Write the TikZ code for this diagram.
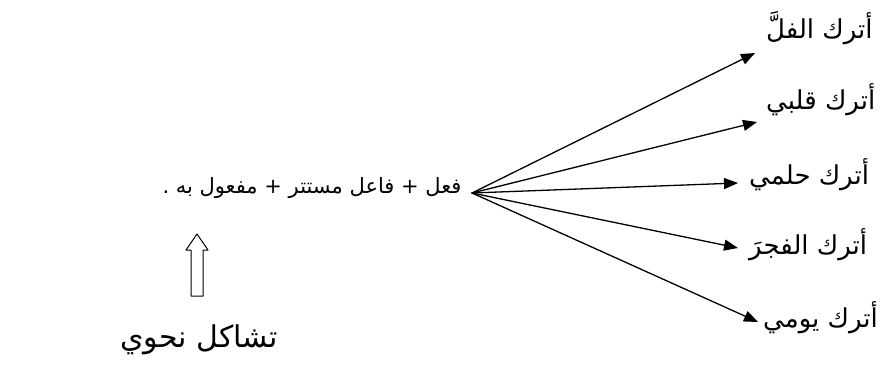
\documentclass[tikz,border=0pt]{standalone}
\usepackage{fontspec}
\newfontfamily\arabicfont[Script=Arabic]{DejaVu Sans}
\TeXXeTstate=1
\usetikzlibrary{arrows.meta}
\tikzset{
  every picture/.style={line join=round, line cap=round},
  ar/.style={font=\arabicfont\fontsize{30}{36}\selectfont, inner sep=1pt},
  arlabel/.style={font=\arabicfont\fontsize{26}{31}\selectfont, inner sep=1pt, anchor=west},
  arform/.style={font=\arabicfont\fontsize{21}{25}\selectfont, inner sep=1pt},
  fan/.style={line width=1.3pt, -{Triangle[length=14pt,width=11pt]}},
}
\begin{document}
\begin{tikzpicture}[x=1pt,y=-1pt]
\useasboundingbox (0,0) rectangle (890,364);
\node[arform] (form) at (312,188) {\beginR فعل + فاعل مستتر + مفعول به .\endR};
\node[ar] (name) at (199,340) {\beginR تشاكل نحوي\endR};
\coordinate (src) at (472,193);
\node[arlabel] (l1) at (765,28) {\beginR أترك الفلَّ\endR};
\node[arlabel] (l2) at (765,100) {\beginR أترك قلبي\endR};
\node[arlabel] (l3) at (748,175) {\beginR أترك حلمي\endR};
\node[arlabel] (l4) at (748,245) {\beginR أترك الفجرَ\endR};
\node[arlabel] (l5) at (762,318) {\beginR أترك يومي\endR};
% fan of arrows
\draw[fan] (src) -- ([shift={(-10,25)}]l1.west);
\draw[fan] (src) -- ([shift={(-8,22)}]l2.west);
\draw[fan] (src) -- ([shift={(-10,8)}]l3.west);
\draw[fan] (src) -- ([shift={(-10,3)}]l4.west);
\draw[fan] (src) -- ([shift={(-4,4)}]l5.west);
% hollow arrow
\draw[line width=1pt,fill=white] (191,296) -- (191,250) -- (186,250) -- (197,234)
  -- (208,250) -- (203,250) -- (203,296) -- cycle;
\end{tikzpicture}
\end{document}
